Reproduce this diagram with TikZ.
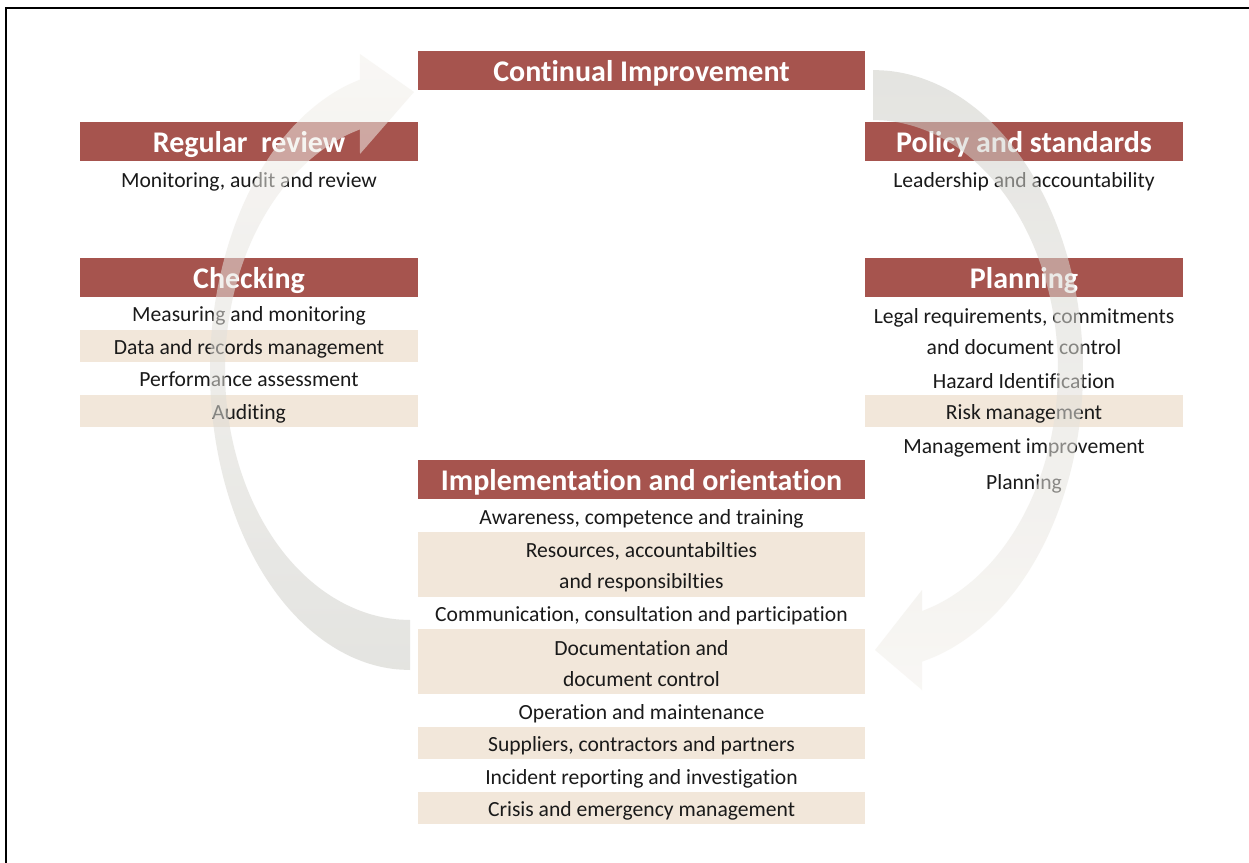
\documentclass[tikz,border=0pt]{standalone}
\usepackage{fontspec}
\setmainfont{Carlito}[Ligatures=NoCommon]
\definecolor{barred}{RGB}{166,84,78}
\definecolor{rowtan}{RGB}{242,231,218}
\definecolor{arrgrey}{RGB}{206,206,200}
\definecolor{arrlight}{RGB}{244,241,236}
\definecolor{ink}{RGB}{26,26,26}

\tikzset{
bar/.style={fill=barred, text=white, inner sep=0pt, minimum height=19.5pt,
  font=\bfseries\fontsize{15}{18}\selectfont, text height=11pt, text depth=0.3pt},
item/.style={text=ink, inner sep=0pt, minimum height=16.25pt,
  font=\fontsize{10.8}{15.5}\selectfont, text height=9pt, text depth=0.5pt},
pair/.style={text=ink, inner sep=0pt, minimum height=32.5pt, align=center,
  font=\fontsize{10.8}{15.5}\selectfont, text height=25pt, text depth=0.5pt},
tan/.style={fill=rowtan},
left col/.style={minimum width=169pt},
right col/.style={minimum width=159pt},
mid col/.style={minimum width=223.5pt}
}

\begin{document}
\begin{tikzpicture}[x=0.5pt, y=-0.5pt]
\useasboundingbox (0,0) rectangle (1249,863);
\fill[white] (0,0) rectangle (1249,863);
\draw[line width=1pt] (6.3,863) -- (6.3,8.3) -- (1249,8.3);

\node (ci) [bar, mid col] at (641.5,70.5) {Continual Improvement};

\node (rr) [bar, left col] at (249,141.5) {Regular\ \ review};
\node (rr1) [item, left col] at (249,179) {Monitoring, audit and review};

\node (ps) [bar, right col] at (1024,141.5) {Policy and standards};
\node (ps1) [item, right col] at (1024,179) {Leadership and accountability};

\node (chk) [bar, left col] at (249,277.5) {Checking};
\node (chk1) [item, left col] at (249,313.25) {Measuring and monitoring};
\node (chk2) [item, left col, tan] at (249,345.75) {Data and records management};
\node (chk3) [item, left col] at (249,378.25) {Performance assessment};
\node (chk4) [item, left col, tan] at (249,410.75) {Auditing};

\node (pln) [bar, right col] at (1024,277.5) {Planning};
\node (pln1) [pair, right col] at (1024,329.5) {Legal requirements, commitments\\and document control};
\node (pln2) [item, right col] at (1024,379.5) {Hazard Identification};
\node (pln3) [item, right col, tan] at (1024,410.75) {Risk management};
\node (pln4) [item, right col] at (1024,444.5) {Management improvement};
\node (pln5) [item, right col] at (1024,481) {Planning};

\node (imp) [bar, mid col] at (641.5,479.5) {Implementation and orientation};
\node (imp1) [item, mid col] at (641.5,516) {Awareness, competence and training};
\node (imp2) [pair, mid col, tan] at (641.5,564) {Resources, accountabilties\\and responsibilties};
\node (imp3) [item, mid col] at (641.5,613) {Communication, consultation and participation};
\node (imp4) [pair, mid col, tan] at (641.5,661.5) {Documentation and\\document control};
\node (imp5) [item, mid col] at (641.5,710.5) {Operation and maintenance};
\node (imp6) [item, mid col, tan] at (641.5,742.75) {Suppliers, contractors and partners};
\node (imp7) [item, mid col] at (641.5,775.5) {Incident reporting and investigation};
\node (imp8) [item, mid col, tan] at (641.5,807.75) {Crisis and emergency management};

\shade[top color=arrlight, bottom color=arrgrey, opacity=.55]
  plot [domain=90:255.5, samples=40, smooth] ({410+200*cos(\x)},{370+300*sin(\x)})
  -- (360,54) -- (414,92) -- (360,154)
  -- plot [domain=90:254.3, samples=40, smooth] ({410+185*cos(344.3-\x)},{370+250*sin(344.3-\x)})
  -- cycle;
\shade[top color=arrgrey, bottom color=arrlight, opacity=.55]
  plot [domain=-90:76.5, samples=40, smooth] ({873+210*cos(\x)},{370+300*sin(\x)})
  -- (922,690) -- (875,650) -- (922,590)
  -- plot [domain=-90:74.6, samples=40, smooth] ({873+185*cos(-15.4-\x)},{370+250*sin(-15.4-\x)})
  -- cycle;
\end{tikzpicture}
\end{document}
